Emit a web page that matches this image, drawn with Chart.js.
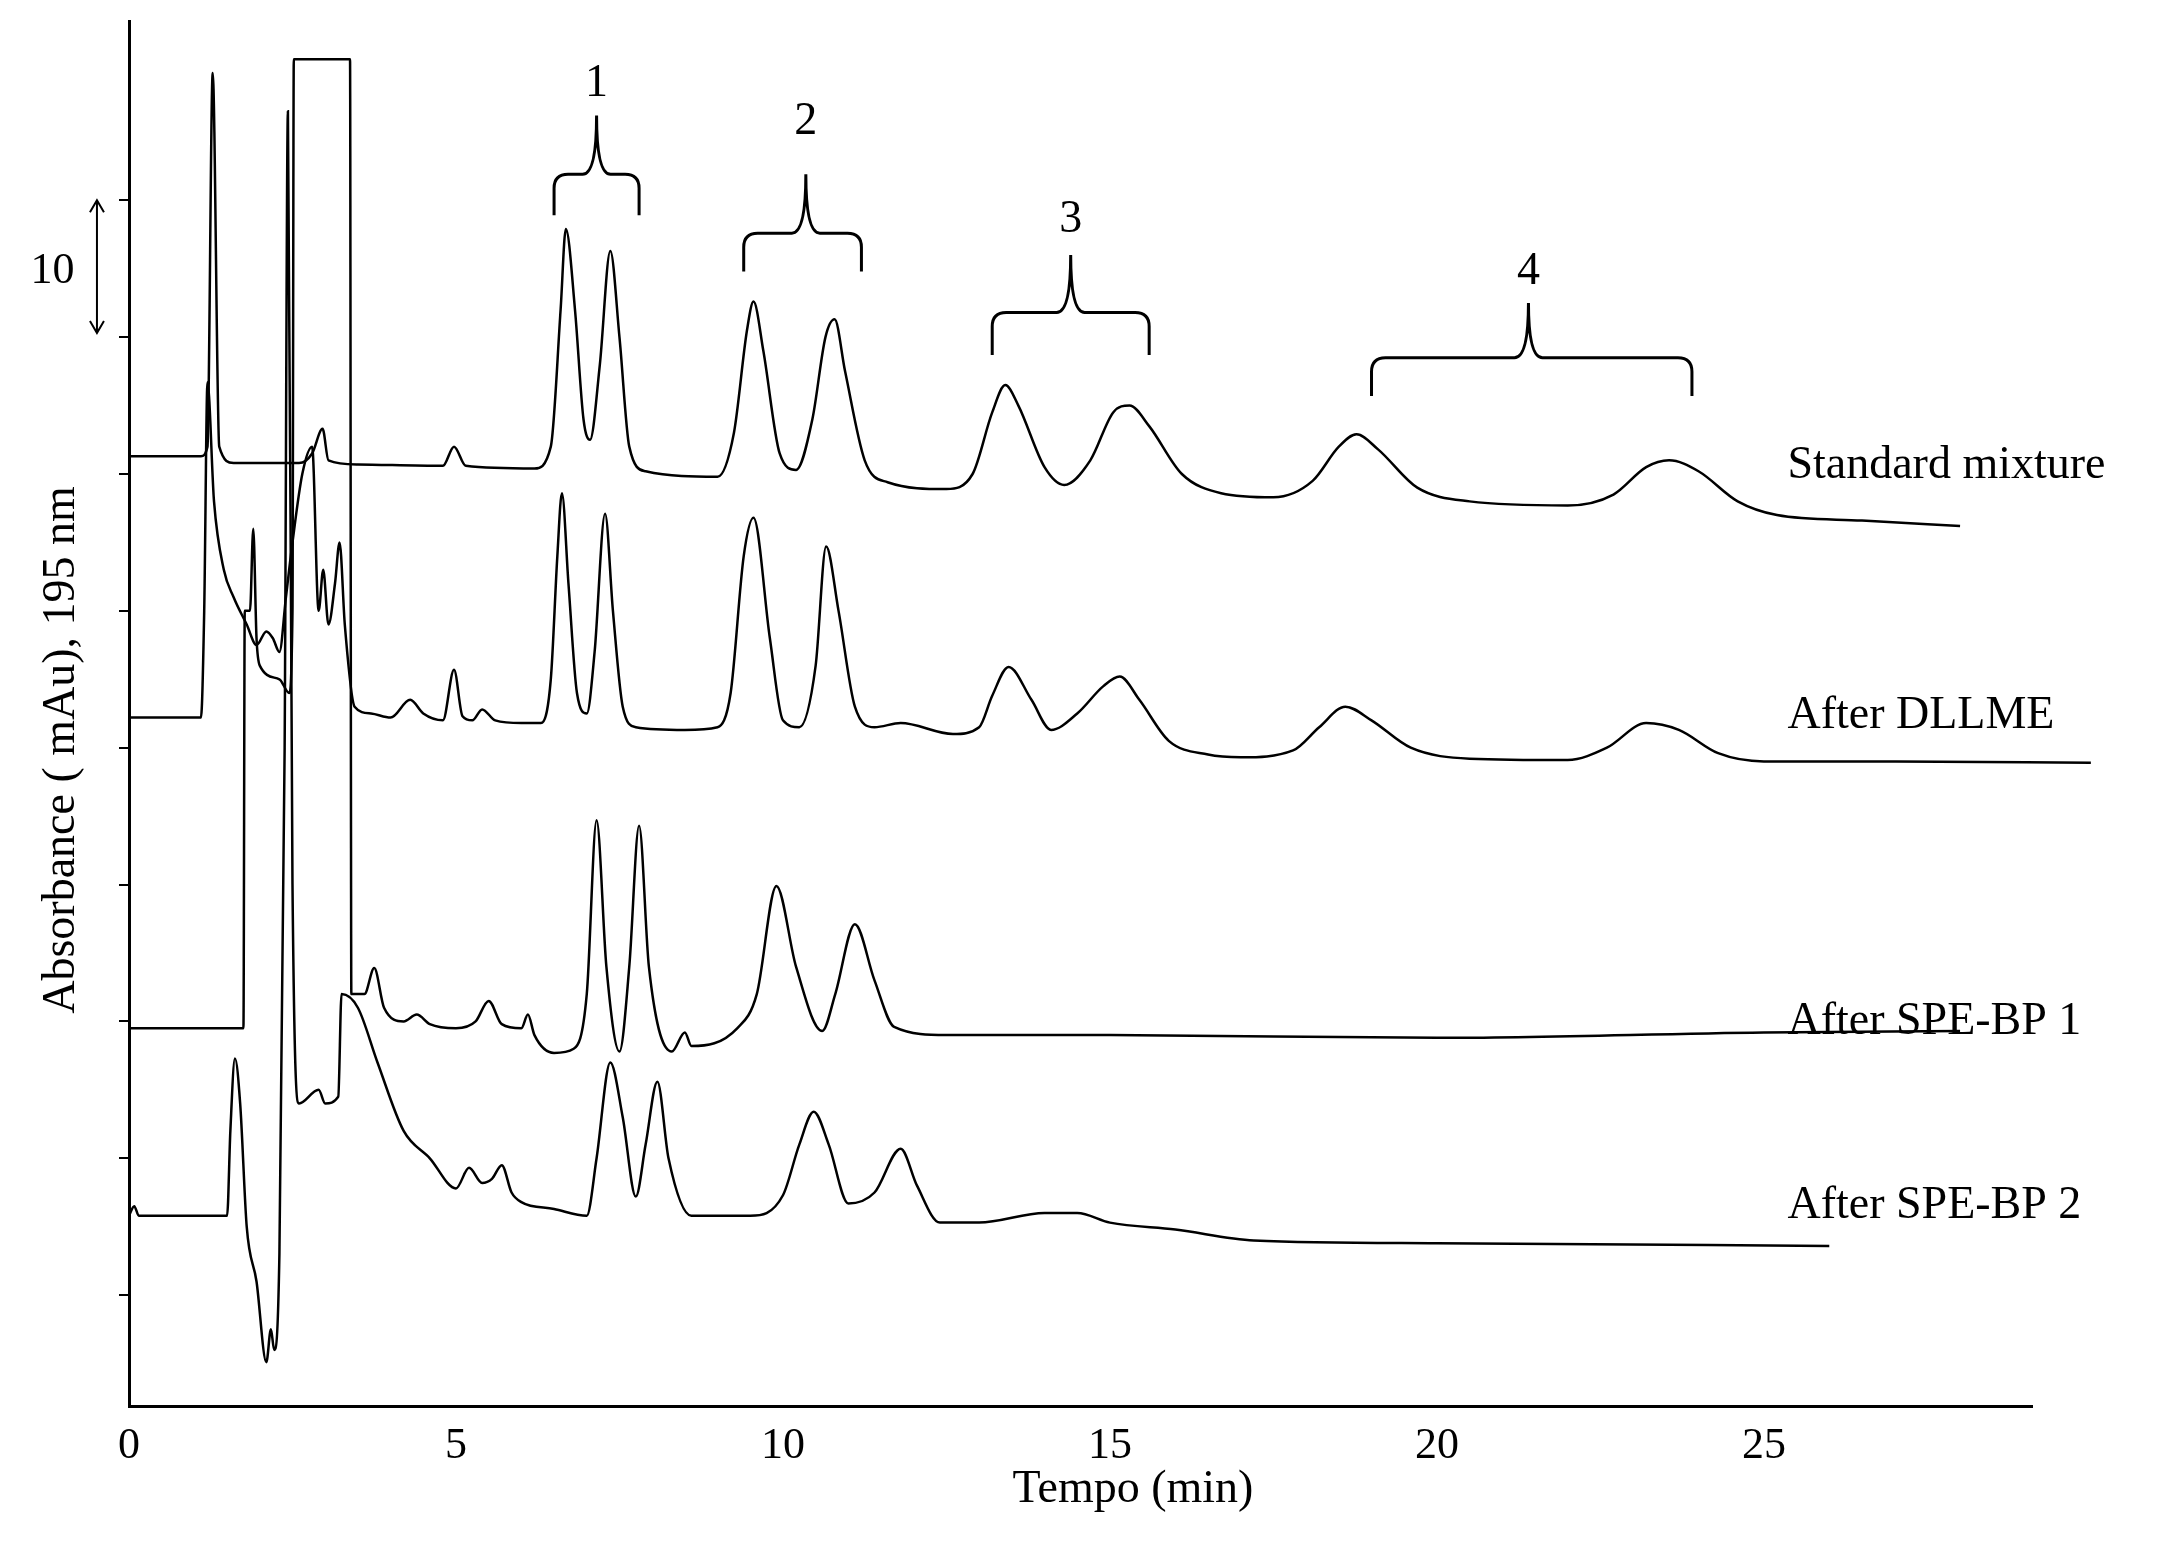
<!DOCTYPE html>
<html>
<head>
<meta charset="utf-8">
<script src="https://cdn.jsdelivr.net/npm/chart.js@4/dist/chart.umd.min.js"></script>
<style>
  html, body { margin: 0; padding: 0; background: #fff; }
  #wrap { width: 2168px; height: 1557px; }
</style>
</head>
<body>
<div id="wrap"><canvas id="chromatogram"></canvas></div>
<script>
// Tempo (min) / Absorbance (mAu, offset per trace)
const stdTime = [0,1.1,1.2,1.28,1.38,1.6,2.6,2.8,2.96,3.05,3.5,4.8,4.97,5.15,6.2,6.45,6.6,6.68,6.82,6.95,7.05,7.2,7.36,7.5,7.65,7.9,9.0,9.25,9.45,9.55,9.7,9.95,10.2,10.45,10.65,10.79,10.95,11.25,11.6,12.5,12.9,13.2,13.4,13.6,14.0,14.3,14.7,15.05,15.3,15.6,16.1,16.7,17.5,18.1,18.5,18.77,19.1,19.7,20.5,22.0,22.7,23.2,23.55,24.0,24.6,25.2,26.5,28.0];
const stdAbs  = [61.3,61.3,62,89.3,62,60.8,60.8,61.5,63.3,61,60.7,60.6,62.0,60.6,60.4,62,72,77.9,72,64,62.5,68,76.3,70,62,60.2,59.8,63,70.5,72.6,69,61.5,60.3,64,70,71.3,67.5,61,59.4,58.9,60,64.5,66.5,65,60.5,59.2,61,64.5,65,63.5,60,58.6,58.3,59.5,62,62.9,61.8,59,58.0,57.7,58.5,60.5,61,60.2,58,57.0,56.6,56.2];

const dllmeTime = [0,1.1,1.15,1.2,1.3,1.45,1.6,1.8,1.95,2.1,2.2,2.3,2.4,2.5,2.65,2.8,2.9,2.97,3.05,3.15,3.22,3.3,3.45,3.7,4.0,4.3,4.5,4.8,4.97,5.1,5.25,5.4,5.6,6.0,6.3,6.45,6.55,6.62,6.72,6.85,7.0,7.12,7.28,7.4,7.55,7.75,8.5,9.0,9.2,9.4,9.55,9.8,10.0,10.25,10.5,10.66,10.85,11.1,11.4,11.8,12.6,13.0,13.2,13.45,13.8,14.1,14.5,14.9,15.15,15.45,15.9,16.5,17.0,17.8,18.2,18.6,19.0,19.6,20.5,22.0,22.6,23.2,23.7,24.3,25.0,27,30];
const dllmeAbs  = [42.2,42.2,50,66.7,58,53,51,49,47.5,48.5,48,47,51,55,60,62,50,53,49,52,55,49,43,42.5,42.2,43.5,42.5,42,45.7,42.3,42,42.8,42,41.8,41.8,45,54,58.6,52,44,42.5,47,57.1,50,43,41.5,41.3,41.5,44,54,56.8,48,42,41.5,46,54.7,50,43,41.5,41.8,41.0,41.5,43.8,45.9,43.5,41.3,42.5,44.5,45.2,43.5,40.5,39.5,39.3,39.8,41.5,43,42,40,39.2,39.1,40,41.8,41.3,39.6,39.0,39.0,38.9];

const bp1Time = [0,1.75,1.77,1.85,1.9,1.95,2.0,2.3,2.45,2.5,2.52,3.38,3.4,3.6,3.75,3.9,4.2,4.4,4.6,5.0,5.3,5.5,5.7,6.0,6.1,6.2,6.5,6.8,7.0,7.15,7.3,7.5,7.65,7.8,7.95,8.3,8.5,8.6,9.3,9.6,9.9,10.2,10.6,10.8,11.1,11.4,11.7,12.5,15,20,25,28];
const bp1Abs  = [19.5,19.5,50,50,56,48,46,45,44,50,90.3,90.3,22,22,23.9,21,20,20.5,19.8,19.5,20,21.5,19.8,19.5,20.5,19,17.7,18,22,34.7,24,17.8,24,34.3,24,17.8,19.2,18.2,19.5,22,29.9,24,19.3,22,27.1,23,19.6,19,19,18.8,19.2,19.3];

const bp2Time = [0,0.08,0.15,0.2,1.5,1.55,1.62,1.7,1.8,1.95,2.1,2.17,2.22,2.3,2.38,2.43,2.5,2.6,2.9,3.0,3.2,3.25,3.5,3.8,4.2,4.6,5.0,5.2,5.4,5.55,5.7,5.85,6.0,6.5,7.0,7.15,7.36,7.55,7.75,7.9,8.08,8.25,8.6,9.5,10.0,10.25,10.47,10.7,11.0,11.4,11.8,12.05,12.4,13.0,14.0,14.5,15.0,16.0,17.2,20,26];
const bp2Abs  = [5.8,6.5,5.8,5.8,5.8,12,17.3,14,5,1,-4.9,-2.5,-4,3,40,86.5,30,14,15,14,14.5,22,21,17,12,10,7.8,9.3,8.2,8.5,9.5,7.5,6.8,6.3,5.8,10,17,13,7.2,11,15.6,10,5.8,5.8,7.3,11,13.4,11,6.7,7.5,10.7,8,5.3,5.3,6.0,6.0,5.3,4.8,4.0,3.8,3.6];

const traceNames = ['Standard mixture', 'After DLLME', 'After SPE-BP 1', 'After SPE-BP 2'];
const labelPos   = [60.6, 42.3, 20.0, 6.5];
const xTicks = [0, 5, 10, 15, 20, 25];

// grupos de picos: inicio, fin, punta, base, horizontal, pico, etiqueta
const groupNames = ['1', '2', '3', '4'];
const groupFrom  = [6.5, 9.4, 13.2, 19.0];
const groupTo    = [7.8, 11.2, 15.6, 23.9];
const groupTip   = [7.15, 10.35, 14.4, 21.4];
const groupEnd   = [78.9, 74.8, 68.7, 65.7];
const groupBar   = [81.9, 77.6, 71.8, 68.5];
const groupPeak  = [86.2, 81.9, 76.0, 72.5];
const groupText  = [88.5, 85.7, 78.6, 74.8];

const pts = (t, v) => t.map((x, i) => ({ x, y: v[i] }));
const FONT = '"Liberation Serif", "Times New Roman", serif';

const annotations = {
  id: 'annotations',
  afterDraw(chart) {
    const { ctx, scales: { x, y } } = chart;
    ctx.save();
    ctx.strokeStyle = '#000';
    ctx.fillStyle = '#000';
    ctx.lineWidth = 3;
    ctx.font = '46px ' + FONT;
    ctx.textAlign = 'center';
    ctx.textBaseline = 'middle';

    groupNames.forEach((name, i) => {
      const x0 = x.getPixelForValue(groupFrom[i]);
      const x1 = x.getPixelForValue(groupTo[i]);
      const xm = x.getPixelForValue(groupTip[i]);
      const yEnd = y.getPixelForValue(groupEnd[i]);
      const yBar = y.getPixelForValue(groupBar[i]);
      const yPk = y.getPixelForValue(groupPeak[i]);
      const r = 14;
      ctx.beginPath();
      ctx.moveTo(x0, yEnd);
      ctx.lineTo(x0, yBar + r);
      ctx.quadraticCurveTo(x0, yBar, x0 + r, yBar);
      ctx.lineTo(xm - r, yBar);
      ctx.quadraticCurveTo(xm, yBar, xm, yPk);
      ctx.quadraticCurveTo(xm, yBar, xm + r, yBar);
      ctx.lineTo(x1 - r, yBar);
      ctx.quadraticCurveTo(x1, yBar, x1, yBar + r);
      ctx.lineTo(x1, yEnd);
      ctx.stroke();
      ctx.fillText(name, xm, y.getPixelForValue(groupText[i]));
    });

    ctx.textAlign = 'left';
    traceNames.forEach((name, i) => {
      ctx.fillText(name, x.getPixelForValue(25.36), y.getPixelForValue(labelPos[i]));
    });

    // escala de 10 mAu
    const xa = x.getPixelForValue(-0.49);
    const ya = y.getPixelForValue(80), yb = y.getPixelForValue(70.3);
    ctx.lineWidth = 2;
    ctx.beginPath();
    ctx.moveTo(xa, ya); ctx.lineTo(xa, yb);
    ctx.moveTo(xa - 7, ya + 12); ctx.lineTo(xa, ya); ctx.lineTo(xa + 7, ya + 12);
    ctx.moveTo(xa - 7, yb - 12); ctx.lineTo(xa, yb); ctx.lineTo(xa + 7, yb - 12);
    ctx.stroke();
    ctx.textAlign = 'center';
    ctx.font = '44px ' + FONT;
    ctx.fillText('10', x.getPixelForValue(-1.17), y.getPixelForValue(74.8));

    ctx.font = '46px ' + FONT;
    ctx.fillText('Tempo (min)', 1133, 1490);
    ctx.translate(62, 750);
    ctx.rotate(-Math.PI / 2);
    ctx.fillText('Absorbance ( mAu), 195 nm', 0, 0);
    ctx.restore();
  }
};

const series = [[stdTime, stdAbs], [dllmeTime, dllmeAbs], [bp1Time, bp1Abs], [bp2Time, bp2Abs]];

new Chart(document.getElementById('chromatogram'), {
  type: 'line',
  data: {
    datasets: series.map(([t, v], i) => ({
      label: traceNames[i],
      data: pts(t, v),
      borderColor: '#000',
      borderWidth: 2.5,
      pointRadius: 0,
      cubicInterpolationMode: 'monotone',
      clip: false
    }))
  },
  options: {
    responsive: true,
    maintainAspectRatio: false,
    animation: false,
    layout: { padding: { top: 21, right: 136, left: 0, bottom: 0 } },
    plugins: { legend: { display: false }, tooltip: { enabled: false } },
    scales: {
      x: {
        type: 'linear',
        min: 0,
        max: 29.1,
        afterFit: (s) => { s.height = 151; },
        afterBuildTicks: (s) => { s.ticks = xTicks.map(v => ({ value: v })); },
        grid: { display: false },
        border: { display: true, color: '#000', width: 3 },
        ticks: { color: '#000', padding: 6, font: { family: FONT, size: 44 } }
      },
      y: {
        min: -8.1,
        max: 93.1,
        afterFit: (s) => { s.width = 129; },
        afterBuildTicks: (s) => { s.ticks = [0,10,20,30,40,50,60,70,80].map(v => ({ value: v })); },
        grid: { drawOnChartArea: false, color: '#000', tickLength: 10, lineWidth: 2 },
        border: { display: true, color: '#000', width: 3 },
        ticks: { display: false }
      }
    }
  },
  plugins: [annotations]
});
</script>
</body>
</html>
